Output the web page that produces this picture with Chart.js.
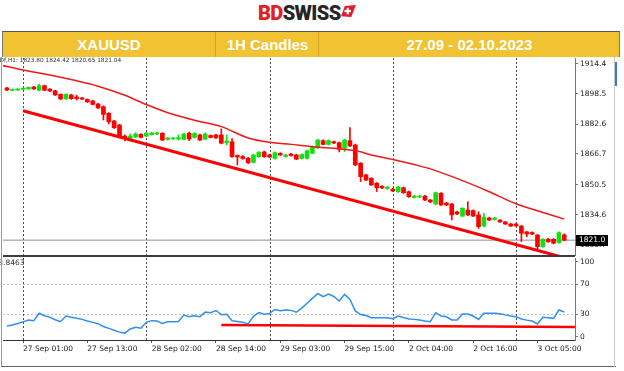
<!DOCTYPE html>
<html>
<head>
<meta charset="utf-8">
<script src="https://cdn.jsdelivr.net/npm/chart.js@4.4.0/dist/chart.umd.min.js"></script>
<style>
  body { margin: 0; background: #fff; }
  #page { position: relative; width: 624px; height: 371px; overflow: hidden; background: #fff; }
  .logo { position: absolute; left: 258px; top: 1px; font-family: Roboto, sans-serif; font-weight: 900; font-size: 20px; letter-spacing: -0.6px; line-height: 24px; white-space: nowrap; }
  .logo .bd { color: #e31e24; }
  .logo .sw { color: #262626; }
  .logo svg { position: absolute; left: 83px; top: 4px; }
  .bar { position: absolute; left: 2px; top: 31px; width: 618px; height: 26px; background: #f1c232; border-top: 1px solid #555; border-left: 1px solid #777; border-right: 1px solid #777; box-sizing: border-box; }
  .cell { position: absolute; top: 0; height: 25px; line-height: 25px; text-align: center; color: #fff; font-family: "Liberation Sans", Arial, sans-serif; font-weight: bold; font-size: 15px; }
  .cell.div { border-left: 1px solid #d4a51c; }
  canvas { position: absolute; left: 0; }
  .frame { position: absolute; background: #9a9a9a; }
</style>
</head>
<body>
<div id="page">
  <div class="logo"><span class="bd">BD</span><span class="sw">SWISS</span>
    <svg width="15" height="13" viewBox="0 0 16 14">
      <polygon points="4,1 16,0 11,13 0,12" fill="#e31e24"/>
      <rect x="6" y="3" width="2.4" height="7" fill="#fff"/>
      <rect x="3.7" y="5.3" width="7" height="2.4" fill="#fff"/>
    </svg>
  </div>
  <div class="bar">
    <div class="cell" style="left:0;width:212px">XAUUSD</div>
    <div class="cell div" style="left:212px;width:103px">1H Candles</div>
    <div class="cell div" style="left:315px;width:301px">27.09 - 02.10.2023</div>
  </div>
  <canvas id="priceChart" width="624" height="200" style="top:57px"></canvas>
  <canvas id="rsiChart" width="624" height="114" style="top:257px"></canvas>
  <div class="frame" style="left:1px;top:57px;width:1px;height:310px"></div>
  <div class="frame" style="left:1px;top:366px;width:615px;height:1px;background:#666"></div>
  <div class="frame" style="left:614px;top:57px;width:1px;height:310px;background:#c8c8c8"></div>
  <div class="frame" style="left:615px;top:62px;width:2px;height:24px;background:#3a78d8"></div>
</div>
<script>
// hourly XAUUSD bars, 26 Sep 21:00 .. 3 Oct 10:00 (index 0..104)
const opens = [1901.7, 1900.4, 1900.6, 1901.0, 1901.2, 1902.2, 1900.5, 1902.9, 1901.1, 1900.2,
  1898.3, 1895.9, 1898.0, 1896.9, 1896.4, 1895.6, 1894.8, 1893.2, 1891.8, 1888.3,
  1884.2, 1882.1, 1876.2, 1874.9, 1875.7, 1877.1, 1876.2, 1877.0, 1877.3, 1877.7,
  1874.4, 1874.7, 1874.6, 1874.5, 1877.7, 1875.5, 1876.8, 1874.6, 1876.5, 1876.8,
  1876.8, 1872.8, 1873.2, 1865.9, 1865.4, 1864.4, 1862.3, 1865.3, 1867.8, 1866.2,
  1864.4, 1867.0, 1865.4, 1866.7, 1866.2, 1864.3, 1864.4, 1867.1, 1870.0, 1873.8,
  1871.8, 1873.3, 1872.7, 1869.7, 1873.8, 1871.5, 1861.8, 1855.6, 1853.8, 1851.2,
  1849.5, 1848.4, 1848.1, 1846.7, 1848.8, 1846.7, 1843.7, 1843.9, 1844.4, 1842.3,
  1840.2, 1845.9, 1840.7, 1840.2, 1836.0, 1833.8, 1837.0, 1836.7, 1834.4, 1828.5,
  1832.8, 1832.0, 1831.7, 1830.7, 1829.6, 1829.6, 1828.5, 1825.4, 1825.1, 1823.8,
  1817.6, 1821.5, 1821.5, 1819.7, 1823.80];
const highs = [1902.0, 1901.2, 1901.4, 1901.8, 1902.3, 1902.5, 1903.8, 1903.2, 1901.4, 1900.5,
  1898.6, 1898.6, 1898.4, 1897.9, 1896.8, 1895.9, 1895.2, 1893.5, 1892.2, 1888.6,
  1884.6, 1882.4, 1876.8, 1877.3, 1878.0, 1877.5, 1878.2, 1878.3, 1878.3, 1878.0,
  1875.5, 1875.5, 1876.8, 1877.6, 1878.3, 1878.0, 1877.3, 1877.9, 1876.8, 1877.1,
  1880.0, 1876.8, 1874.9, 1866.2, 1865.9, 1864.9, 1866.6, 1868.0, 1868.2, 1866.6,
  1867.8, 1867.4, 1866.6, 1867.0, 1866.6, 1866.8, 1868.8, 1871.0, 1874.6, 1874.2,
  1874.2, 1873.6, 1873.0, 1874.5, 1880.7, 1872.0, 1862.2, 1856.0, 1854.2, 1851.6,
  1849.9, 1849.6, 1848.5, 1849.5, 1849.2, 1847.0, 1844.8, 1844.8, 1844.8, 1842.6,
  1846.6, 1846.3, 1841.1, 1840.5, 1836.4, 1838.3, 1841.4, 1837.1, 1836.1, 1835.3,
  1833.2, 1833.2, 1832.0, 1831.0, 1830.0, 1830.0, 1828.9, 1825.8, 1825.5, 1824.1,
  1821.9, 1822.0, 1821.9, 1825.5, 1824.42];
const lows = [1900.3, 1900.2, 1900.3, 1900.7, 1900.9, 1900.9, 1900.1, 1900.2, 1899.8, 1897.7,
  1895.5, 1895.6, 1895.7, 1895.3, 1895.5, 1894.0, 1892.7, 1890.8, 1884.7, 1882.6,
  1880.2, 1875.5, 1873.6, 1873.6, 1875.4, 1875.2, 1875.9, 1876.7, 1877.0, 1873.8,
  1874.1, 1874.4, 1874.1, 1874.2, 1873.8, 1875.2, 1873.8, 1874.2, 1875.2, 1874.9,
  1872.1, 1871.5, 1864.9, 1860.9, 1863.9, 1861.6, 1861.9, 1865.0, 1864.9, 1864.8,
  1864.0, 1865.9, 1865.0, 1865.6, 1863.7, 1864.0, 1864.0, 1866.8, 1869.6, 1871.5,
  1871.5, 1872.2, 1867.8, 1868.0, 1870.6, 1860.4, 1852.1, 1852.5, 1849.9, 1846.8,
  1848.3, 1848.0, 1846.8, 1846.4, 1845.8, 1843.7, 1843.4, 1843.6, 1842.0, 1840.9,
  1839.8, 1839.3, 1839.3, 1831.7, 1834.6, 1833.5, 1834.0, 1833.5, 1827.3, 1828.0,
  1831.4, 1831.7, 1830.4, 1829.3, 1828.2, 1828.3, 1820.3, 1822.9, 1824.0, 1815.8,
  1817.2, 1819.9, 1819.0, 1819.3, 1820.65];
const closes = [1900.6, 1900.9, 1901.1, 1901.5, 1902.0, 1901.2, 1902.9, 1900.5, 1900.1, 1898.0,
  1895.9, 1898.3, 1896.0, 1896.1, 1895.8, 1894.3, 1893.0, 1891.1, 1887.7, 1883.8,
  1880.6, 1875.9, 1875.2, 1876.2, 1877.3, 1875.5, 1877.6, 1877.8, 1877.9, 1874.1,
  1875.2, 1875.2, 1875.4, 1877.3, 1874.6, 1877.6, 1874.1, 1877.3, 1875.5, 1875.2,
  1872.4, 1873.6, 1865.3, 1865.1, 1864.3, 1862.1, 1866.2, 1867.6, 1865.3, 1865.1,
  1867.4, 1866.2, 1866.2, 1865.9, 1864.0, 1866.4, 1868.4, 1870.6, 1874.1, 1871.8,
  1873.8, 1872.5, 1869.2, 1874.1, 1871.0, 1860.9, 1854.7, 1852.9, 1850.3, 1848.8,
  1848.7, 1849.2, 1847.1, 1849.1, 1846.2, 1844.1, 1844.4, 1844.4, 1842.3, 1841.3,
  1846.2, 1839.7, 1839.7, 1834.4, 1834.9, 1837.9, 1834.4, 1833.8, 1828.2, 1833.2,
  1831.7, 1832.8, 1830.7, 1829.6, 1828.5, 1828.6, 1824.7, 1824.3, 1824.3, 1817.6,
  1821.5, 1820.2, 1819.4, 1825.0, 1821.04];

// moving average (upper red curve), read at some bars
const maBars = [-1, 3, 8, 13, 17, 22, 26, 30, 35, 40, 45, 49, 53, 57, 62, 65, 68, 72, 76, 79, 85, 90, 95, 100, 104];
const maValues = [1913.7, 1911.2, 1908.6, 1905.5, 1902.6, 1897.8, 1892.9, 1888.6, 1884.6, 1881.2, 1875.2, 1872.9, 1871.8,
  1870.6, 1869.5, 1868.5, 1866.2, 1863.8, 1861.1, 1858.8, 1852.6, 1846.7, 1840.3, 1835.7, 1832.2];

// trend line under the candles
const trendBars = [3, 106];
const trendPrices = [1889.65, 1810.2];

// oscillator (lower panel)
const rsiValues = [14.7, 16.0, 18.0, 20.2, 22.5, 21.8, 31.6, 28.3, 26.5, 23.0,
  20.4, 28.0, 26.3, 25.0, 23.5, 21.3, 19.5, 17.8, 14.0, 11.5,
  9.0, 6.5, 5.2, 10.7, 12.9, 11.6, 19.6, 21.8, 21.3, 18.2,
  20.2, 20.4, 20.6, 29.3, 27.1, 28.4, 27.0, 33.2, 32.5, 35.3,
  29.8, 30.4, 21.6, 20.8, 19.8, 17.4, 27.5, 32.5, 30.3, 31.3,
  36.7, 35.0, 36.0, 35.5, 33.0, 38.5, 45.0, 51.5, 58.0, 53.8,
  57.2, 54.0, 48.0, 56.8, 50.0, 34.8, 30.0, 28.6, 25.8, 25.6,
  25.6, 25.6, 24.5, 28.0, 25.9, 24.0, 23.5, 22.8, 21.4, 20.4,
  32.4, 28.0, 27.0, 22.7, 22.7, 30.7, 30.7, 28.0, 23.4, 31.6,
  31.6, 31.6, 31.0, 29.5, 28.0, 27.1, 24.0, 22.5, 21.3, 17.3,
  26.2, 25.8, 24.9, 36.0, 33.3];
const supportBars = [40, 106];
const supportValues = [16.0, 13.3];

const daySeparators = [3, 26, 49, 72, 95];
const timeTickBars = [3, 15, 27, 39, 51, 63, 75, 87, 99];
const timeTickLabels = ["27 Sep 01:00", "27 Sep 13:00", "28 Sep 02:00", "28 Sep 14:00",
  "29 Sep 03:00", "29 Sep 15:00", "2 Oct 04:00", "2 Oct 16:00", "3 Oct 05:00"];
const priceTicks = [1914.4, 1898.5, 1882.6, 1866.7, 1850.5, 1834.6, 1818.7];
const rsiTicks = [0, 30, 70, 100];
const rsiLevels = [30, 70];

const xMin = -0.74, xMax = 106;
const axisFont = { family: "'DejaVu Sans', sans-serif", size: 7.5 };
const bull = '#12e012', bear = '#ff0000';
const candleColors = opens.map((o, i) => closes[i] >= o ? bull : bear);
const last = closes.length - 1;

// keep the plot areas where they are, whatever the labels hang over
function noPad(s) {
  s.paddingLeft = 0; s.paddingRight = 0; s.paddingTop = 0; s.paddingBottom = 0;
}

function drawSeparators(chart) {
  const { ctx, chartArea, scales: { x } } = chart;
  ctx.save();
  ctx.strokeStyle = '#4a4a4a';
  ctx.lineWidth = 1;
  ctx.setLineDash([2, 2]);
  daySeparators.forEach(b => {
    const px = Math.round(x.getPixelForValue(b)) + 0.5;
    ctx.beginPath();
    ctx.moveTo(px, chartArea.top);
    ctx.lineTo(px, chartArea.bottom);
    ctx.stroke();
  });
  ctx.restore();
}

const pricePlugin = {
  id: 'priceExtras',
  beforeDatasetsDraw(chart) {
    drawSeparators(chart);
  },
  afterDraw(chart) {
    const { ctx, chartArea, scales: { y } } = chart;
    ctx.save();
    // panel separator
    ctx.fillStyle = '#3c3c3c';
    ctx.fillRect(chartArea.left, chartArea.bottom, chartArea.right - chartArea.left, 2);
    // data window text
    ctx.font = "5.8px 'DejaVu Sans', sans-serif";
    ctx.fillStyle = '#333';
    ctx.textBaseline = 'middle';
    const prefix = 'XAUUSD';
    const info = prefix + 'f,H1: ' + [opens[last], highs[last], lows[last], closes[last]].map(v => v.toFixed(2)).join(' ');
    ctx.fillText(info, 4 - ctx.measureText(prefix).width, 3.5);
    // last price box
    const py = Math.round(y.getPixelForValue(closes[last]));
    ctx.fillStyle = '#000';
    ctx.fillRect(y.left + 1, py - 5, 32, 11);
    ctx.fillStyle = '#fff';
    ctx.font = "7.5px 'DejaVu Sans', sans-serif";
    ctx.textAlign = 'left';
    ctx.fillText(closes[last].toFixed(1), y.left + 4, py + 0.5);
    ctx.restore();
  }
};

const rsiPlugin = {
  id: 'rsiExtras',
  beforeDatasetsDraw(chart) {
    const { ctx, chartArea, scales: { y } } = chart;
    ctx.save();
    ctx.strokeStyle = '#c4c4c4';
    ctx.lineWidth = 1;
    ctx.setLineDash([2, 2]);
    rsiLevels.forEach(v => {
      const py = Math.round(y.getPixelForValue(v)) + 0.5;
      ctx.beginPath();
      ctx.moveTo(chartArea.left, py);
      ctx.lineTo(chartArea.right, py);
      ctx.stroke();
    });
    ctx.restore();
    drawSeparators(chart);
  },
  afterDraw(chart) {
    const { ctx } = chart;
    ctx.save();
    ctx.font = "7.5px 'DejaVu Sans', sans-serif";
    ctx.fillStyle = '#333';
    ctx.textBaseline = 'middle';
    const hidden = rsiValues[last].toFixed(0);
    ctx.fillText(hidden + '.8463', 3 - ctx.measureText(hidden).width, 6);
    ctx.restore();
  }
};

new Chart(document.getElementById('priceChart'), {
  type: 'line',
  data: {
    datasets: [
      {
        label: 'Trend',
        data: trendBars.map((b, i) => ({ x: b, y: trendPrices[i] })),
        borderColor: '#ff0000', borderWidth: 3, pointRadius: 0, order: 0
      },
      {
        label: 'MA',
        data: maBars.map((b, i) => ({ x: b, y: maValues[i] })),
        borderColor: '#f01818', borderWidth: 1.5, pointRadius: 0, tension: 0.3, order: 1
      },
      {
        type: 'bar', label: 'Body',
        data: opens.map((o, i) => ({ x: i, y: [o, closes[i]] })),
        backgroundColor: candleColors, barThickness: 4, grouped: false, order: 2
      },
      {
        type: 'bar', label: 'Wick',
        data: lows.map((l, i) => ({ x: i, y: [l, highs[i]] })),
        backgroundColor: candleColors, barThickness: 1, grouped: false, order: 3
      },
      {
        label: 'Last',
        data: [{ x: xMin - 1, y: closes[last] }, { x: xMax + 1, y: closes[last] }],
        borderColor: '#8e8e8e', borderWidth: 1, pointRadius: 0, order: 4
      }
    ]
  },
  options: {
    responsive: false,
    animation: false,
    layout: { padding: { left: 3, top: 1, right: 0, bottom: 2 } },
    plugins: { legend: { display: false }, tooltip: { enabled: false } },
    scales: {
      x: { type: 'linear', min: xMin, max: xMax, display: false, offset: false },
      y: {
        type: 'linear', position: 'right', min: 1813.17, max: 1917.58, beginAtZero: false,
        afterFit: s => { s.width = 49; noPad(s); },
        afterBuildTicks: s => { s.ticks = priceTicks.map(v => ({ value: v })); },
        ticks: { callback: v => v.toFixed(1), font: axisFont, color: '#222', padding: 2 },
        grid: { drawOnChartArea: false, tickLength: 3, color: '#777' },
        border: { color: '#777' }
      }
    }
  },
  plugins: [pricePlugin]
});

new Chart(document.getElementById('rsiChart'), {
  type: 'line',
  data: {
    datasets: [
      {
        label: 'Support',
        data: supportBars.map((b, i) => ({ x: b, y: supportValues[i] })),
        borderColor: '#ff0000', borderWidth: 2.5, pointRadius: 0, order: 1
      },
      {
        label: 'Oscillator',
        data: rsiValues.map((v, i) => ({ x: i, y: v })),
        borderColor: '#2f8ff0', borderWidth: 1.5, pointRadius: 0, order: 0
      }
    ]
  },
  options: {
    responsive: false,
    animation: false,
    layout: { padding: { left: 3, top: 1, right: 0, bottom: 0 } },
    plugins: { legend: { display: false }, tooltip: { enabled: false } },
    scales: {
      x: {
        type: 'linear', min: xMin, max: xMax, offset: false,
        afterFit: s => { s.height = 31; noPad(s); },
        afterBuildTicks: s => { s.ticks = timeTickBars.map(v => ({ value: v })); },
        ticks: { autoSkip: false, maxRotation: 0, align: 'start', callback: (v, i) => timeTickLabels[i], font: axisFont, color: '#222', padding: 2 },
        grid: { drawOnChartArea: false, tickLength: 3, color: '#555' },
        border: { color: '#333' }
      },
      y: {
        type: 'linear', position: 'right', min: -4, max: 105.33,
        afterFit: s => { s.width = 49; noPad(s); },
        afterBuildTicks: s => { s.ticks = rsiTicks.map(v => ({ value: v })); },
        ticks: { font: axisFont, color: '#222', padding: 2 },
        grid: { drawOnChartArea: false, tickLength: 3, color: '#777' },
        border: { color: '#777' }
      }
    }
  },
  plugins: [rsiPlugin]
});
</script>
</body>
</html>
